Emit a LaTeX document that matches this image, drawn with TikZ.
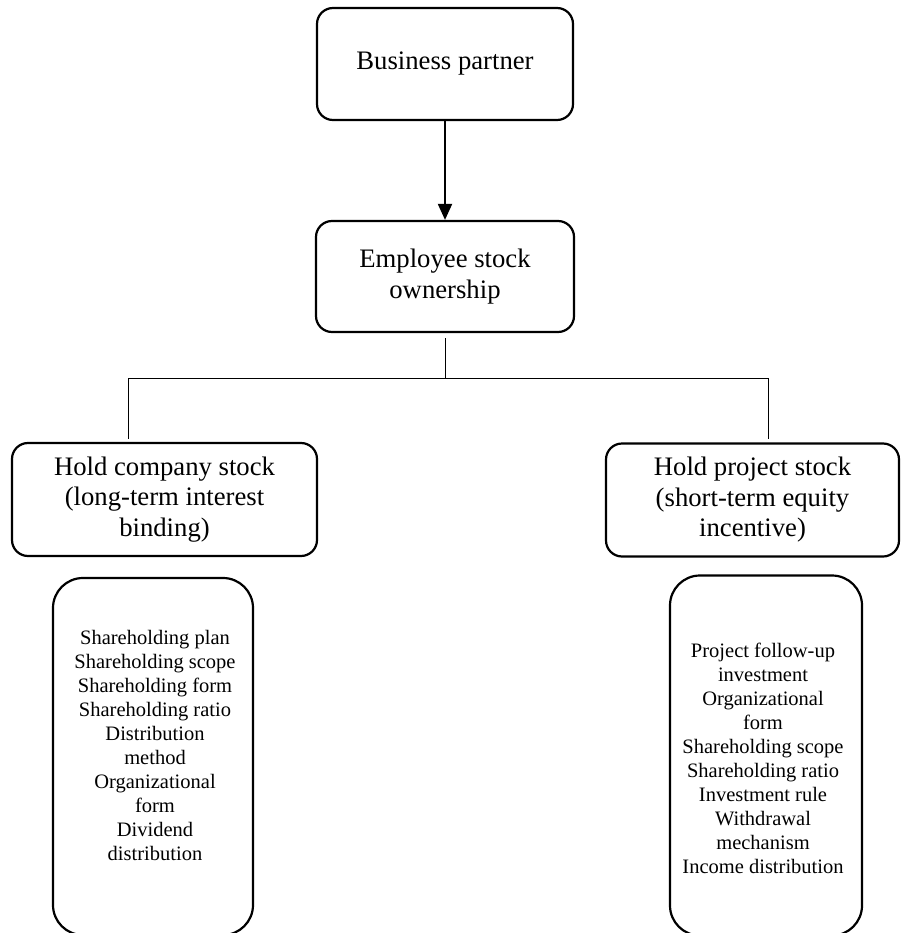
\documentclass[tikz,border=0pt]{standalone}
\usepackage{fontspec}
\setmainfont{Liberation Serif}
\usetikzlibrary{arrows.meta}

\tikzset{
  box/.style={draw, line width=2.2pt, rounded corners=16pt, inner sep=0pt,
    align=center, font=\fontsize{26.7}{30.5}\selectfont},
  listbox/.style={draw, line width=2.2pt, rounded corners=30pt, inner sep=0pt},
  listtext/.style={align=center, inner sep=0pt, font=\fontsize{20.5}{24}\selectfont},
  link/.style={draw, line width=1pt},
  arr/.style={draw, line width=2pt, -{Triangle[length=16pt,width=14pt]}}
}

\begin{document}
\begin{tikzpicture}[x=1pt, y=-1pt]
  \useasboundingbox (0,0) rectangle (901,933);

  % top of the hierarchy
  \node[box, minimum width=256pt, minimum height=112pt] (bp) at (445,64) {Business partner};
  \node[box, minimum width=258pt, minimum height=111pt] (eso) at (445,276.5) {Employee stock\\ownership};
  \draw[arr] (bp.south) -- (eso.north);

  % the two kinds of holding
  \node[box, minimum width=305pt, minimum height=113pt] (lh) at (164.5,499.5)
    {Hold company stock\\(long-term interest\\binding)};
  \node[box, minimum width=293pt, minimum height=113pt] (rh) at (752.5,500)
    {Hold project stock\\(short-term equity\\incentive)};

  % branching connector
  \coordinate (jl) at (128,378);
  \coordinate (jr) at (768,378);
  \draw[link, shorten <=5pt] (eso.south) -- (eso.south |- jl);
  \draw[link] (jl) -- (jr);
  \draw[link, shorten >=3pt] (jl) -- (jl |- lh.north);
  \draw[link, shorten >=3pt] (jr) -- (jr |- rh.north);

  % detail lists
  \node[listbox, minimum width=200pt, minimum height=357pt] (ll) at (153,756.5) {};
  \node[listtext] (llt) at (155,745)
    {Shareholding plan\\Shareholding scope\\Shareholding form\\Shareholding ratio\\Distribution\\method\\Organizational\\form\\Dividend\\distribution};

  \node[listbox, minimum width=192pt, minimum height=360pt] (rl) at (766,755.5) {};
  \node[listtext] (rlt) at (763,758)
    {Project follow-up\\investment\\Organizational\\form\\Shareholding scope\\Shareholding ratio\\Investment rule\\Withdrawal\\mechanism\\Income distribution};
\end{tikzpicture}
\end{document}
